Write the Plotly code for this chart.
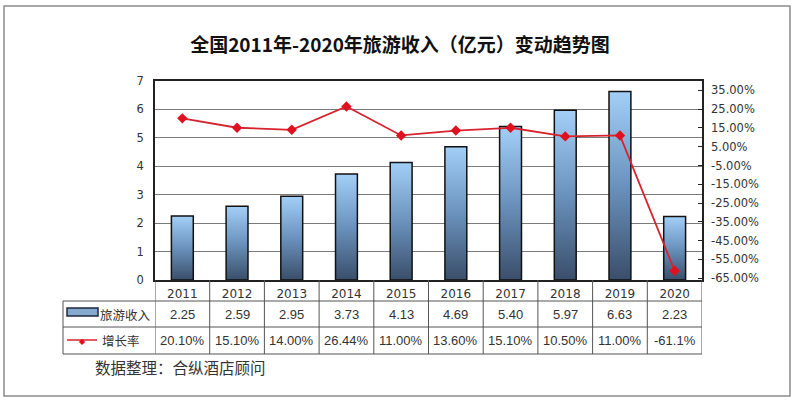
import plotly.graph_objects as go

# 数据
years = ["2011", "2012", "2013", "2014", "2015", "2016", "2017", "2018", "2019", "2020"]
income = [2.25, 2.59, 2.95, 3.73, 4.13, 4.69, 5.40, 5.97, 6.63, 2.23]
growth = [20.10, 15.10, 14.00, 26.44, 11.00, 13.60, 15.10, 10.50, 11.00, -61.1]
growth_text = ["20.10%", "15.10%", "14.00%", "26.44%", "11.00%", "13.60%", "15.10%", "10.50%", "11.00%", "-61.1%"]
right_ticks = [35, 25, 15, 5, -5, -15, -25, -35, -45, -55, -65]

W, H = 800, 404
L, R, T, B = 155, 702, 81, 280   # plot area in pixels


def px(x):
    return (x - L) / (R - L)


def py(y):
    return (B - y) / (B - T)


fig = go.Figure()

# 柱子 (gradient fill, one trace per bar)
bw = 0.2
for i, v in enumerate(income):
    fig.add_trace(go.Scatter(
        x=[i - bw, i + bw, i + bw, i - bw, i - bw],
        y=[0, 0, v, v, 0],
        mode="lines", fill="toself",
        fillgradient=dict(type="vertical", start=0, stop=v,
                          colorscale=[[0, "#3a4e6a"], [0.5, "#6a92bd"], [1, "#a3cff7"]]),
        line=dict(color="#111111", width=1.5),
        hoverinfo="skip", showlegend=False,
    ))

# 增长率
fig.add_trace(go.Scatter(
    x=list(range(len(years))), y=[g / 100 for g in growth], yaxis="y2",
    mode="lines+markers",
    line=dict(color="#d8232f", width=1.8),
    marker=dict(symbol="diamond", size=8, color="#e0101e"),
    showlegend=False,
))

shapes = []
line_c = "#555555"
# table horizontal lines
for yy in [301, 327, 354]:
    shapes.append(dict(type="line", xref="paper", yref="paper",
                       x0=px(63), x1=px(R), y0=py(yy), y1=py(yy),
                       line=dict(color=line_c, width=1)))
# column separators
for k in range(len(years) + 1):
    shapes.append(dict(type="line", xref="x", yref="paper",
                       x0=k - 0.5, x1=k - 0.5, y0=py(280), y1=py(354),
                       line=dict(color=line_c, width=1)))
shapes.append(dict(type="line", xref="paper", yref="paper",
                   x0=px(63), x1=px(63), y0=py(301), y1=py(354),
                   line=dict(color=line_c, width=1)))
# legend keys
shapes.append(dict(type="rect", xref="paper", yref="paper",
                   x0=px(67), x1=px(98), y0=py(308), y1=py(316),
                   fillcolor="#86a9cf", line=dict(color="#1e2a3a", width=1.5)))
shapes.append(dict(type="line", xref="paper", yref="paper",
                   x0=px(67), x1=px(97), y0=py(340), y1=py(340),
                   line=dict(color="#d8232f", width=1.5)))
# outer frame
shapes.append(dict(type="rect", xref="paper", yref="paper",
                   x0=px(4), x1=px(790), y0=py(6), y1=py(396),
                   line=dict(color="#8c8c8c", width=1.5), layer="below"))

ann = []
cell_font = dict(family="Liberation Sans, Arial", size=13, color="#333333")
for i in range(len(years)):
    ann.append(dict(x=i, y=py(314), xref="x", yref="paper", text=f"{income[i]:.2f}",
                    xanchor="center", yanchor="middle", showarrow=False, font=cell_font))
    ann.append(dict(x=i, y=py(340), xref="x", yref="paper", text=growth_text[i],
                    xanchor="center", yanchor="middle", showarrow=False, font=cell_font))
cjk = "Noto Sans CJK SC"
ann.append(dict(x=px(125), y=py(314), xref="paper", yref="paper", text="旅游收入",
                xanchor="center", yanchor="middle", showarrow=False,
                font=dict(family=cjk, size=12.5, color="#333333")))
ann.append(dict(x=px(121), y=py(340), xref="paper", yref="paper", text="增长率",
                xanchor="center", yanchor="middle", showarrow=False,
                font=dict(family=cjk, size=12.5, color="#333333")))
ann.append(dict(x=px(82), y=py(340), xref="paper", yref="paper", text="◆",
                xanchor="center", yanchor="middle", showarrow=False,
                font=dict(size=8, color="#e0101e")))
ann.append(dict(x=px(93), y=py(367), xref="paper", yref="paper", text="数据整理：合纵酒店顾问",
                xanchor="left", yanchor="middle", showarrow=False,
                font=dict(family=cjk, size=15.5, color="#333333")))

tick_font = dict(family="DejaVu Sans", size=11.5, color="#333333")
fig.update_layout(
    width=W, height=H,
    margin=dict(l=L, r=W - R, t=T, b=H - B),
    paper_bgcolor="white", plot_bgcolor="white",
    title=dict(text="<b>全国2011年-2020年旅游收入（亿元）变动趋势图</b>",
               x=0.5, xanchor="center", y=1 - 45 / H, yanchor="middle",
               font=dict(family=cjk, size=19, color="#111111")),
    xaxis=dict(range=[-0.5, len(years) - 0.5], tickvals=list(range(len(years))), ticktext=years,
               showgrid=False, zeroline=False, showline=True, mirror=True,
               linecolor="#222222", linewidth=1.5, ticks="",
               tickfont=dict(family="DejaVu Sans", size=12, color="#333333"),
               ticklabelstandoff=2, fixedrange=True),
    yaxis=dict(range=[0, 7], dtick=1, showgrid=True, gridcolor="#7a7a7a", gridwidth=1.2,
               zeroline=False, showline=True, mirror=True, linecolor="#222222", linewidth=1.5,
               ticks="", tickfont=tick_font, ticklabelstandoff=7),
    yaxis2=dict(overlaying="y", side="right", range=[-0.66, 0.40],
                tickvals=[t / 100 for t in right_ticks], ticktext=[f"{t:.2f}%" for t in right_ticks],
                showgrid=False, zeroline=False, ticks="inside", ticklen=4, tickcolor="#222222",
                tickfont=tick_font, ticklabelstandoff=8),
    shapes=shapes, annotations=ann,
)

fig.write_html("out.html", config={"displayModeBar": False},
               post_script="document.body.style.margin='0';")
